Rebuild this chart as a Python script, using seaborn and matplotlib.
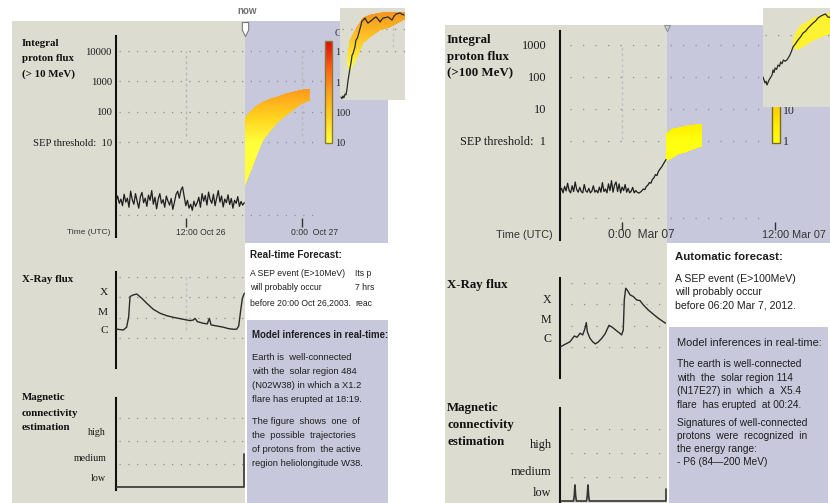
import numpy as np
import matplotlib.pyplot as plt
import seaborn as sns
from matplotlib import font_manager
from matplotlib.patches import Rectangle
from matplotlib.path import Path
from matplotlib.colors import LinearSegmentedColormap, LogNorm
from matplotlib.cm import ScalarMappable
from matplotlib.ticker import NullLocator
import matplotlib.transforms as mtransforms

# ---------------------------------------------------------------
# data
# left:  event of 26 Oct 2003, hours from 0:00 Oct 26
# right: event of 7 Mar 2012, hours from 0:00 Mar 07
# proton / X-ray values are log10 of the flux
# ---------------------------------------------------------------
p10_span = (4.76, 18.03)
p10_log = [-0.95, -0.78, -1.02, -0.88, -1.10, -0.72, -0.98, -0.85, -1.15, -0.62,
           -0.90, -1.05, -0.70, -0.95, -1.18, -0.80, -0.66, -1.00, -0.85, -1.12,
           -0.75, -0.92, -0.60, -1.05, -0.82, -1.20, -0.88, -0.70, -1.02, -0.90,
           -1.15, -0.78, -0.95, -1.08, -0.86, -1.22, -0.98, -0.72, -0.62, -0.85,
           -0.58, -0.48, -0.80, -1.10, -0.92, -1.18, -1.05, -1.25, -0.95, -1.12,
           -1.00, -0.82, -1.15, -0.70, -0.95, -0.76, -1.08, -0.65, -0.90, -1.02,
           -0.72, -1.10, -0.84, -0.60, -0.98, -0.78, -1.14, -0.88, -1.00, -0.74,
           -1.06, -0.86, -1.18, -0.92, -1.02, -0.80, -1.12, -0.96, -1.08, -1.00]

band10_t = [18.10, 18.51, 18.93, 19.45, 19.97, 20.69, 21.41, 22.24, 23.07, 23.90, 24.83]
band10_hi = [1.79, 1.96, 2.09, 2.22, 2.32, 2.42, 2.48, 2.58, 2.65, 2.71, 2.75]
band10_lo = [-0.42, -0.09, 0.24, 0.67, 1.07, 1.36, 1.63, 1.86, 2.06, 2.25, 2.38]

xray10_t = [4.76, 5.51, 5.86, 6.07, 6.21, 6.48, 6.90, 7.42, 7.93, 8.62,
            9.31, 10.0, 10.69, 11.55, 12.41, 12.76, 12.93, 13.17, 13.79, 14.20,
            14.41, 14.59, 15.17, 15.86, 16.38, 16.90, 17.24, 17.45, 17.66, 17.83, 18.03]
xray10_log = [-5.54, -5.59, -5.45, -4.94, -3.96, -3.89, -3.83, -4.04, -4.28, -4.58,
              -4.77, -4.89, -4.97, -5.05, -5.13, -5.10, -5.02, -5.18, -5.26, -5.29,
              -5.02, -5.34, -5.39, -5.45, -5.52, -5.55, -5.55, -5.39, -4.61, -4.04, -3.80]

mag10_t = [4.76, 18.03, 18.03]
mag10_lvl = [0, 0, 1.43]

inset10_t = [0.6, 1.2, 1.8, 2.4, 3.1, 3.7, 4.3, 4.9, 5.5, 6.2,
             6.8, 7.4, 8.0, 8.6, 9.2, 9.8, 10.8, 11.7, 12.6, 13.5,
             14.5, 15.4, 16.3, 17.2, 18.5, 19.7, 21.0, 22.2, 23.4, 24.6,
             25.6, 26.5, 28.0, 29.5, 30.8, 32.0, 33.2, 34.5, 35.7, 36.9, 38.2, 39.4]
inset10_log = [0.95, 0.88, 1.0, 0.92, 1.09, 1.05, 1.32, 1.68, 1.95, 2.27,
               2.5, 2.82, 2.9, 3.05, 3.2, 3.5, 3.62, 3.86, 4.1, 4.36,
               4.42, 4.5, 4.38, 4.27, 4.35, 4.41, 4.5, 4.55, 4.45, 4.32,
               4.42, 4.5, 4.52, 4.55, 4.48, 4.41, 4.58, 4.68, 4.7, 4.73, 4.66, 4.64]
inset10_band_t = [4.3, 6.2, 10.5, 14.2, 18.5, 24.6, 30.8, 38.8, 40]
inset10_band_hi = [2.59, 3.5, 4.09, 4.5, 4.64, 4.73, 4.77, 4.77, 4.77]
inset10_band_lo = [2.5, 2.14, 2.73, 3.36, 3.64, 3.95, 4.09, 4.41, 4.45]

now10 = 18.1

p100_span = (-4.86, 3.45)
p100_log = [-1.58, -1.48, -1.62, -1.42, -1.56, -1.32, -1.55, -1.62, -1.40, -1.58,
            -1.28, -1.52, -1.60, -1.45, -1.58, -1.62, -1.36, -1.56, -1.60, -1.48,
            -1.62, -1.57, -1.40, -1.60, -1.54, -1.62, -1.44, -1.60, -1.30, -1.58,
            -1.50, -1.62, -1.34, -1.55, -1.24, -1.60, -1.38, -1.28, -1.58, -1.34,
            -1.62, -1.44, -1.55, -1.36, -1.60, -1.48, -1.62, -1.57, -1.45, -1.62,
            -1.55, -1.60, -1.63, -1.60,
            -1.56, -1.50, -1.52, -1.42, -1.38, -1.30, -1.32, -1.20, -1.15, -1.05,
            -1.08, -0.95, -0.88, -0.82, -0.74, -0.66, -0.58]

band100_t = [3.45, 3.9, 4.4, 5.0, 5.6, 6.3]
band100_hi = [0.22, 0.36, 0.42, 0.46, 0.49, 0.52]
band100_lo = [-0.62, -0.52, -0.42, -0.33, -0.25, -0.16]

xray100_t = [-4.81, -4.47, -4.08, -3.74, -3.53, -3.29, -3.08, -2.9, -2.8, -2.72,
             -2.51, -2.3, -2.09, -1.86, -1.59, -1.33, -1.02, -0.76, -0.5, -0.24,
             -0.03, 0.1, 0.18, 0.29, 0.44, 0.63, 0.89, 1.15, 1.41, 1.67,
             2.06, 2.46, 2.85, 3.24, 3.42]
xray100_log = [-5.99, -5.88, -5.76, -5.49, -5.55, -5.36, -5.44, -5.13, -4.86, -5.29,
               -5.6, -5.76, -5.86, -5.77, -5.6, -5.39, -4.99, -5.08, -5.21, -5.33,
               -5.44, -5.21, -3.8, -3.25, -3.36, -3.56, -3.64, -3.8, -3.83, -4.03,
               -4.27, -4.47, -4.66, -4.82, -4.89]

mag100_t = [-4.86, -3.80, -3.74, -3.69, -3.64, -3.58, -2.78, -2.72, -2.67, -2.62, -2.56, 3.45, 3.45]
mag100_lvl = [0, 0, 0.25, 0.67, 0.25, 0, 0, 0.25, 0.67, 0.25, 0, 0, 0.5]

inset100_t = [0, 0.6, 1.2, 1.8, 2.4, 3.0, 3.6, 4.5, 5.4, 6.0,
              6.6, 7.2, 8.1, 9.0, 9.9, 10.5, 11.3, 12.2, 13.1, 14.3,
              15.2, 16.1, 17.0, 17.9, 19.4, 20.9, 22.4, 23.9, 25.4, 26.9,
              28.4, 29.9, 31.4, 32.8, 34.3, 35.8, 37.3, 38.8, 40]
inset100_log = [1.32, 1.2, 1.08, 1.15, 1.0, 1.1, 1.2, 1.3, 1.4, 1.6,
                1.5, 1.68, 1.62, 1.8, 1.75, 1.92, 1.85, 2.0, 1.95, 2.0,
                2.1, 2.2, 2.35, 2.52, 2.65, 2.8, 2.92, 3.08, 3.15, 3.28,
                3.38, 3.48, 3.56, 3.68, 3.75, 3.8, 3.84, 3.72, 3.7]
inset100_band_t = [17.3, 19.1, 22.1, 29.9, 40]
inset100_band_hi = [2.68, 3.12, 3.4, 3.72, 3.92]
inset100_band_lo = [2.68, 2.4, 2.48, 2.8, 3.08]

now100 = 3.53

p10_ticks = [10, 100, 1000, 10000]
p10_labels = ['SEP threshold:  10', '100', '1000', '10000']
p100_ticks = [1, 10, 100, 1000]
p100_labels = ['SEP threshold:  1', '10', '100', '1000']
xray_ticks = [10 ** -3.73, 10 ** -4.67, 10 ** -5.57]
xray_labels = ['X', 'M', 'C']
mag_ticks = [0.4, 1.28, 2.4]
mag_labels = ['low', 'medium', 'high']

# ---------------------------------------------------------------
W, H = 830, 503
BEIGE = '#dcdcd0'
LAV = '#c8c8dc'
DOT = '#8e8e8e'
SERIF = 'Liberation Serif'

sns.set_theme(style='white')
plt.rcParams['font.family'] = ['Liberation Sans', 'DejaVu Sans']

# the left screenshot uses a condensed sans; fall back to a smaller regular one
installed = {f.name for f in font_manager.fontManager.ttflist}
if 'Liberation Sans Narrow' in installed:
    NARROW, k, kb = 'Liberation Sans Narrow', 1.0, 1.0
else:
    NARROW, k, kb = 'Liberation Sans', 0.82, 0.87

fig = plt.figure(figsize=(W / 100, H / 100), dpi=100)


def box(x0, y0, x1, y1):
    return [x0 / W, 1 - y1 / H, (x1 - x0) / W, (y1 - y0) / H]


bg = fig.add_axes([0, 0, 1, 1])
bg.set_xlim(0, W)
bg.set_ylim(H, 0)
bg.axis('off')
for x0, y0, x1, y1, c in [(12, 21, 245, 503, BEIGE), (245, 21, 388, 243, LAV),
                          (247, 320, 388, 503, LAV), (445, 25, 667, 503, BEIGE),
                          (667, 25, 830, 243, LAV), (669, 327, 828, 503, LAV)]:
    bg.add_patch(Rectangle((x0, y0), x1 - x0, y1 - y0, facecolor=c, lw=0))


def put_lines(x, y0, dy, lines, **kw):
    for i, s in enumerate(lines):
        bg.text(x, y0 + i * dy, s, ha='left', va='center', **kw)


def make_axes(px, xlim, ylim, logy=False):
    ax = fig.add_axes(box(*px))
    ax.patch.set_alpha(0)
    if logy:
        ax.set_yscale('log')
    for s in ('top', 'right', 'bottom'):
        ax.spines[s].set_visible(False)
    ax.spines['left'].set_linewidth(1.5)
    ax.spines['left'].set_color('#111111')
    ax.set_xticks([])
    ax.yaxis.set_minor_locator(NullLocator())
    ax.tick_params(axis='y', length=0)
    ax.set_xlim(xlim)
    ax.set_ylim(ylim)
    return ax


def dotted_rows(ax, rows, x0, x1, period=6):
    for r in rows:
        ax.plot([x0, x1], [r, r], color=DOT, lw=0.9, ls=(0, (1, period)), zorder=1)


def gradient_band(ax, t, lo, hi, cmap, norm):
    t = np.asarray(t)
    lo = 10.0 ** np.asarray(lo)
    hi = 10.0 ** np.asarray(hi)
    shape = ax.fill_between(t, lo, hi, facecolor='none', edgecolor='none')
    yy = np.logspace(np.log10(lo.min()), np.log10(hi.max()), 150)
    X, Y = np.meshgrid([t.min(), t.max()], yy)
    mesh = ax.pcolormesh(X, Y, Y, cmap=cmap, norm=norm, shading='gouraud', zorder=2)
    mesh.set_clip_path(shape.get_paths()[0], transform=ax.transData)


def line(ax, t, v, color='#1e1e1e', lw=0.8):
    sns.lineplot(x=np.asarray(t), y=np.asarray(v), ax=ax, color=color, linewidth=lw,
                 estimator=None, sort=False, zorder=3)
    ax.set(xlabel='', ylabel='')


def time_ticks(ax, frac, ticks, labels, offsets, sizes, family, length):
    sec = ax.secondary_xaxis(frac)
    sec.set_xticks(ticks, labels=[''] * len(ticks))
    sec.tick_params(direction='in', length=length, width=1.0, color='#333333')
    sec.spines['bottom'].set_visible(False)
    blend = mtransforms.blended_transform_factory(ax.transData, ax.transAxes)
    for t, lab, dx, size in zip(ticks, labels, offsets, sizes):
        ax.annotate(lab, xy=(t, frac), xycoords=blend, xytext=(dx, -5.5),
                    textcoords='offset pixels', ha='left', va='center',
                    fontsize=size, family=family, color='#333333')


def now_marker(ax, t, frac, size):
    shield = Path([(-0.45, 1), (0.45, 1), (0.45, -0.1), (0, -1), (-0.45, -0.1), (-0.45, 1)], closed=True)
    blend = mtransforms.blended_transform_factory(ax.transData, ax.transAxes)
    ax.plot([t], [frac], marker=shield, ms=size, mfc='white', mec='#7a7a7a', mew=0.8,
            transform=blend, clip_on=False, zorder=6)


cmap10 = LinearSegmentedColormap.from_list('p10', ['#ffff3c', '#ffd21e', '#ff9f1c', '#ff5a14', '#dc0a0a'])
cmap_in10 = LinearSegmentedColormap.from_list('in10', ['#ffff3c', '#ffc828', '#f5961e'])
cmap100 = LinearSegmentedColormap.from_list('p100', ['#ffff10', '#fff000', '#ffd200', '#ffbe00'])

# ======================= left: Oct 2003 =======================
ax = make_axes((116, 36, 388, 237), (4.759, 32.9), (10 ** -2.13, 10 ** 4.495), logy=True)
dotted_rows(ax, [100, 1000, 10000], 5.1, 26.9)
dotted_rows(ax, [10, 10 ** -1.4], 5.1, 25.9)
for tv in (12, 24):
    ax.plot([tv, tv], [10 ** 1.2, 10 ** 4.0], color='#b8b8b8', lw=1.0, ls=(0, (2, 2)), zorder=1)
gradient_band(ax, band10_t, band10_lo, band10_hi, cmap10, LogNorm(10, 10 ** 4.36))
line(ax, np.linspace(*p10_span, len(p10_log)), 10.0 ** np.array(p10_log), lw=0.9)
ax.set_xlim(4.759, 32.9)
ax.set_ylim(10 ** -2.13, 10 ** 4.495)
ax.set_yticks(p10_ticks, labels=p10_labels, fontsize=7.7, family=SERIF, color='#1a1a1a')
ax.tick_params(axis='y', pad=3)
time_ticks(ax, 0.0498, [12, 24], ['12:00 Oct 26', '0:00  Oct 27'], [-10, -11],
           [7.6 * k, 7.6 * k], NARROW, 6.5)
now_marker(ax, now10, 1.035, 10)

cax = fig.add_axes(box(325, 41, 332, 143))
cb = fig.colorbar(ScalarMappable(norm=LogNorm(10, 10 ** 4.36), cmap=cmap10), cax=cax)
cb.set_ticks(p10_ticks, labels=['10', '100', '1000', '10000'])
cb.ax.yaxis.set_minor_locator(NullLocator())
cb.ax.tick_params(length=0, pad=2, labelsize=7.5)
for lab in cb.ax.get_yticklabels():
    lab.set_family(SERIF)
cb.outline.set_edgecolor('#8a7a3a')
cb.outline.set_linewidth(1.0)
bg.text(335, 33, 'G', fontsize=7.5, family=SERIF, va='center', color='#333333')

ax = make_axes((116, 272, 245, 368), (4.759, 18.10), (10 ** -7.44, 10 ** -2.76), logy=True)
dotted_rows(ax, [1e-3, 1e-4, 1e-5, 1e-6], 5.1, 18.0)
ax.plot([12, 12], [1e-3, 10 ** -5.6], color='#c0c0c0', lw=1.0, ls=(0, (2, 2)), zorder=1)
line(ax, xray10_t, 10.0 ** np.array(xray10_log), color='#2b2b2b', lw=1.0)
ax.set_xlim(4.759, 18.10)
ax.set_ylim(10 ** -7.44, 10 ** -2.76)
ax.set_yticks(xray_ticks, labels=xray_labels, fontsize=8.2, family=SERIF, color='#1a1a1a')
ax.tick_params(axis='y', pad=6)

ax = make_axes((116, 398, 245, 490), (4.759, 18.10), (-0.13, 3.87))
dotted_rows(ax, [1, 2, 3], 5.1, 18.0)
line(ax, mag10_t, mag10_lvl, color='#333333', lw=1.2)
ax.set_xlim(4.759, 18.10)
ax.set_ylim(-0.13, 3.87)
ax.set_yticks(mag_ticks, labels=mag_labels, fontsize=7.2, family=SERIF, color='#1a1a1a')
ax.tick_params(axis='y', pad=7)

ax = fig.add_axes(box(340, 8, 405, 100))
ax.set_facecolor(BEIGE)
for s in ax.spines.values():
    s.set_visible(False)
ax.set_yscale('log')
ax.set_xticks([])
ax.set_yticks([])
ax.yaxis.set_minor_locator(NullLocator())
dotted_rows(ax, [1000, 10000], 1, 40)
ax.plot([32.6, 32.6], [10 ** 3.2, 10 ** 4.4], color='#c0c0c0', lw=1.0, ls=(0, (2, 2)), zorder=1)
gradient_band(ax, inset10_band_t, inset10_band_lo, inset10_band_hi, cmap_in10, LogNorm(10 ** 2.3, 10 ** 4.8))
line(ax, inset10_t, 10.0 ** np.array(inset10_log), color='#2a2a2a', lw=0.9)
ax.set_xlim(0, 40)
ax.set_ylim(10 ** 0.82, 10 ** 4.95)

# left texts
bg.text(247, 11, 'now', fontsize=7, color='#707070', fontweight='bold', ha='center', va='center')
tkw = dict(family=SERIF, fontweight='bold', fontsize=7.8, color='#111111')
put_lines(22, 43, 15.5, ['Integral', 'proton flux', '(> 10 MeV)'], **tkw)
put_lines(22, 280, 15, ['X-Ray flux'], **tkw)
put_lines(22, 398, 15, ['Magnetic', 'connectivity', 'estimation'], **tkw)
bg.text(110, 232, 'Time (UTC)', family=NARROW, fontsize=7.4 * k, color='#333333', ha='right', va='center')

lkw = dict(family=NARROW, color='#1e1e1e')
put_lines(250, 255, 15, ['Real-time Forecast:'], fontsize=8.2 * kb, fontweight='bold', **lkw)
put_lines(250, 273, 15, ['A SEP event (E>10MeV)', 'will probably occur', 'before 20:00 Oct 26,2003.'],
          fontsize=7.6 * k, **lkw)
put_lines(355, 273, 15, ['Its p', '7 hrs', 'reac'], fontsize=7.6 * k, **lkw)
put_lines(252, 335, 15, ['Model inferences in real-time:'], fontsize=8.0 * kb, fontweight='bold', **lkw)
put_lines(252, 357, 14, ['Earth is  well-connected', 'with the  solar region 484',
                         '(N02W38) in which a X1.2', 'flare has erupted at 18:19.'],
          fontsize=7.8 * kb, **lkw)
put_lines(252, 422, 14, ['The figure  shows  one  of', 'the  possible  trajectories',
                         'of protons from  the active', 'region heliolongitude W38.'],
          fontsize=7.8 * kb, **lkw)

# ======================= right: Mar 2012 =======================
ax = make_axes((560, 31, 830, 240), (-4.863, 16.31), (10 ** -3.094, 10 ** 3.4375), logy=True)
dotted_rows(ax, [1, 10, 100, 1000, 10 ** -2.4], -4.1, 11.0, period=9)
ax.plot([0, 0], [10 ** 0.05, 10 ** 3.0], color='#c0c0c0', lw=1.0, ls=(0, (2, 2)), zorder=1)
gradient_band(ax, band100_t, band100_lo, band100_hi, cmap100, LogNorm(1, 10 ** 1.48))
line(ax, np.linspace(*p100_span, len(p100_log)), 10.0 ** np.array(p100_log), lw=0.9)
ax.set_xlim(-4.863, 16.31)
ax.set_ylim(10 ** -3.094, 10 ** 3.4375)
ax.set_yticks(p100_ticks, labels=p100_labels, fontsize=8.8, family=SERIF, color='#1a1a1a')
ax.tick_params(axis='y', pad=10)
time_ticks(ax, 0.048, [0, 12], ['0:00  Mar 07', '12:00 Mar 07'], [-14.5, -13],
           [8.6, 7.8], 'Liberation Sans', 5.8)
ax.plot([now100], [1.014], marker='v', ms=5, mfc='none', mec='#909090', mew=0.8,
        transform=mtransforms.blended_transform_factory(ax.transData, ax.transAxes), clip_on=False)

cax = fig.add_axes(box(772, 95, 780, 143))
cb = fig.colorbar(ScalarMappable(norm=LogNorm(10 ** -0.065, 10 ** 1.48), cmap=cmap100), cax=cax)
cb.set_ticks([1, 10], labels=['1', '10'])
cb.ax.yaxis.set_minor_locator(NullLocator())
cb.ax.tick_params(length=0, pad=2, labelsize=8.5)
for lab in cb.ax.get_yticklabels():
    lab.set_family(SERIF)
cb.outline.set_edgecolor('#7a6a2a')
cb.outline.set_linewidth(1.0)

ax = make_axes((560, 278, 666, 378), (-4.863, 3.451), (10 ** -7.46, 10 ** -2.77), logy=True)
dotted_rows(ax, [1e-3, 1e-4, 1e-5, 1e-6], -4.0, 3.1, period=9)
line(ax, xray100_t, 10.0 ** np.array(xray100_log), color='#2b2b2b', lw=1.0)
ax.set_xlim(-4.863, 3.451)
ax.set_ylim(10 ** -7.46, 10 ** -2.77)
ax.set_yticks(xray_ticks, labels=xray_labels, fontsize=8.6, family=SERIF, color='#1a1a1a')
ax.tick_params(axis='y', pad=6)

ax = make_axes((560, 408, 667, 503), (-4.863, 3.53), (-0.083, 3.875))
dotted_rows(ax, [1, 2, 3], -4.0, 3.1, period=9)
line(ax, mag100_t, mag100_lvl, color='#333333', lw=1.2)
ax.set_xlim(-4.863, 3.53)
ax.set_ylim(-0.083, 3.875)
ax.set_yticks(mag_ticks, labels=mag_labels, fontsize=8.8, family=SERIF, color='#1a1a1a')
ax.tick_params(axis='y', pad=6)

ax = fig.add_axes(box(763, 8, 830, 107))
ax.set_facecolor(BEIGE)
for s in ax.spines.values():
    s.set_visible(False)
ax.set_yscale('log')
ax.set_xticks([])
ax.set_yticks([])
ax.yaxis.set_minor_locator(NullLocator())
dotted_rows(ax, [1000], 1, 40, period=9)
ax.fill_between(inset100_band_t, 10.0 ** np.array(inset100_band_lo), 10.0 ** np.array(inset100_band_hi),
                color='#fff230', lw=0, zorder=2)
line(ax, inset100_t, 10.0 ** np.array(inset100_log), color='#2a2a2a', lw=0.9)
ax.set_xlim(0, 40)
ax.set_ylim(10 ** 0.12, 10 ** 4.08)

# right texts
tkw = dict(family=SERIF, fontweight='bold', fontsize=9.3, color='#111111')
put_lines(447, 40, 16.5, ['Integral', 'proton flux', '(>100 MeV)'], **tkw)
put_lines(447, 285, 16, ['X-Ray flux'], **tkw)
put_lines(447, 408, 17, ['Magnetic', 'connectivity', 'estimation'], **tkw)
bg.text(553, 235, 'Time (UTC)', fontsize=7.8, color='#333333', ha='right', va='center')

rkw = dict(family='Liberation Sans', color='#1e1e1e')
put_lines(675, 257, 13, ['Automatic forecast:'], fontsize=8.2, fontweight='bold', **rkw)
put_lines(675, 279, 13, ['A SEP event (E>100MeV)', 'will probably occur', 'before 06:20 Mar 7, 2012.'],
          fontsize=7.6, **rkw)
put_lines(677, 343, 13, ['Model inferences in real-time:'], fontsize=7.9, **rkw)
put_lines(677, 364, 13.7, ['The earth is well-connected', 'with  the  solar region 114',
                           '(N17E27) in  which  a  X5.4', 'flare  has erupted  at 00:24.'],
          fontsize=7.3, **rkw)
put_lines(677, 423, 13, ['Signatures of well-connected', 'protons  were  recognized  in',
                         'the energy range:', '- P6 (84\u2014200 MeV)'],
          fontsize=7.3, **rkw)

fig.savefig('out.png', dpi=100)
